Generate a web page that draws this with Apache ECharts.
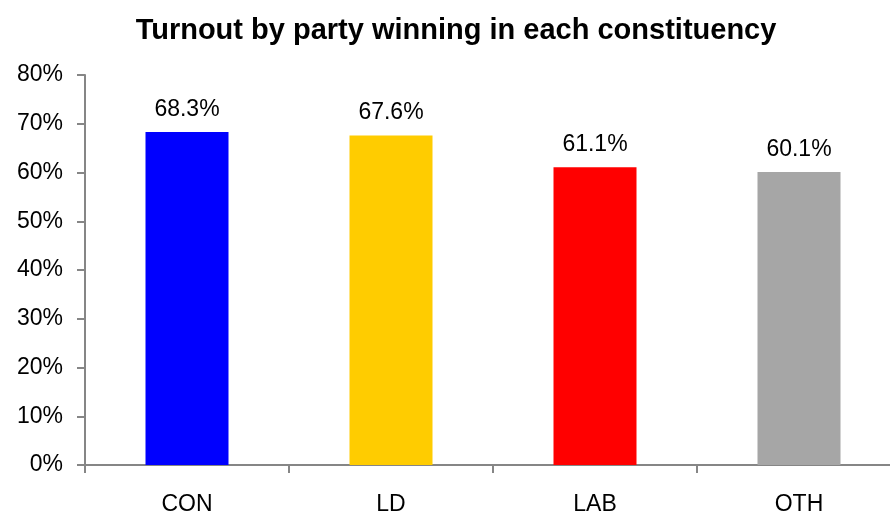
<!DOCTYPE html>
<html>
<head>
<meta charset="utf-8">
<script src="https://cdn.jsdelivr.net/npm/echarts@6/dist/echarts.min.js"></script>
<style>html,body{margin:0;padding:0;background:#fff}#c{width:890px;height:514px}</style>
</head>
<body>
<div id="c"></div>
<script>
const categories = ['CON', 'LD', 'LAB', 'OTH'];
const turnout = [68.3, 67.6, 61.1, 60.1];
const barColors = ['#0000FF', '#FFCC00', '#FF0000', '#A6A6A6'];
const yTicks = [0, 10, 20, 30, 40, 50, 60, 70, 80];

const chart = echarts.init(document.getElementById('c'), null, {renderer: 'canvas'});
const font = 'Liberation Sans, Arial, sans-serif';
chart.setOption({
  animation: false,
  backgroundColor: '#fff',
  title: {
    text: 'Turnout by party winning in each constituency',
    left: 451, top: 11, textAlign: 'center',
    textStyle: {fontFamily: font, fontSize: 29, fontWeight: 'bold', color: '#000'}
  },
  grid: {left: 85, width: 816, top: 75, bottom: 49, containLabel: false, outerBoundsMode: 'none'},
  xAxis: {
    type: 'category',
    data: categories,
    boundaryGap: true,
    axisLine: {lineStyle: {color: '#868686', width: 2}},
    axisTick: {show: true, length: 8, lineStyle: {color: '#868686', width: 2}},
    axisLabel: {color: '#000', fontFamily: font, fontSize: 23, margin: 28}
  },
  yAxis: {
    type: 'value',
    min: yTicks[0], max: yTicks[yTicks.length - 1], interval: 10,
    splitLine: {show: false},
    axisLine: {show: true, lineStyle: {color: '#868686', width: 2}},
    axisTick: {show: true, length: 8, lineStyle: {color: '#868686', width: 2}},
    axisLabel: {color: '#000', fontFamily: font, fontSize: 23, margin: 22, formatter: '{value}%'}
  },
  series: [{
    type: 'bar',
    data: turnout.map((v, i) => ({value: v, itemStyle: {color: barColors[i]}})),
    barWidth: 83,
    label: {
      show: true, position: 'top', distance: 11,
      fontFamily: font, fontSize: 23, color: '#000',
      formatter: p => p.value.toFixed(1) + '%'
    }
  }]
});
</script>
</body>
</html>
